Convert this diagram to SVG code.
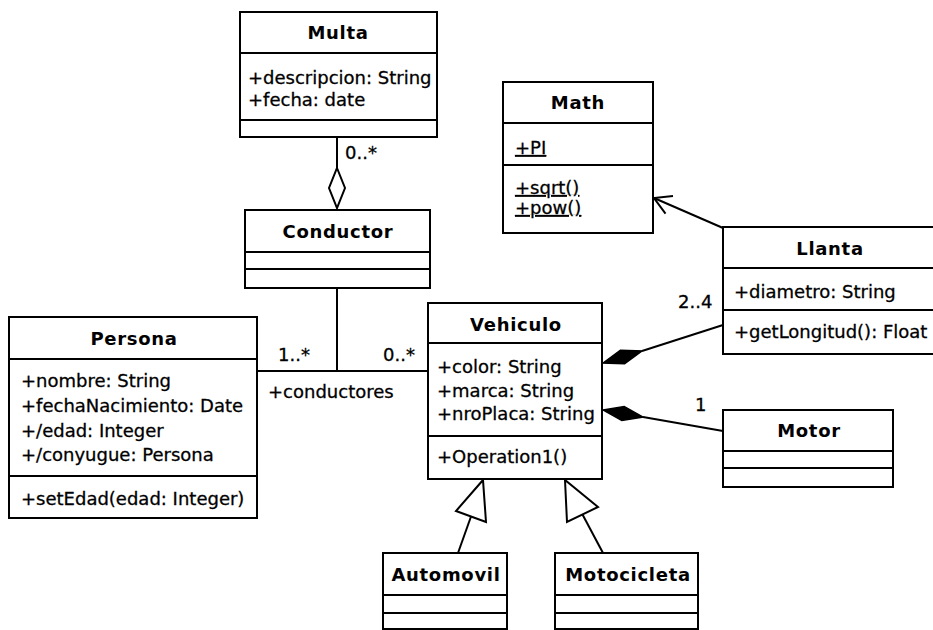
<svg xmlns="http://www.w3.org/2000/svg" width="933" height="630" viewBox="0 0 933 630">
  <style>
    .box { fill: #ffffff; stroke: #000000; stroke-width: 2; }
    .div { stroke: #000000; stroke-width: 2; }
    .edge { fill: none; stroke: #000000; stroke-width: 2; }
    .title { font-family: "DejaVu Sans", Verdana, sans-serif; font-weight: bold; font-size: 18px; letter-spacing: 0.7px; text-anchor: middle; fill: #000; }
    .txt { font-family: "DejaVu Sans", Verdana, sans-serif; font-size: 18px; fill: #000; stroke: #000; stroke-width: 0.3; }
    .u { text-decoration: underline; }
  </style>
  <rect width="933" height="630" fill="#ffffff"/>

  <!-- connectors -->
  <g id="connectors">
    <!-- Multa aggregation to Conductor -->
    <line class="edge" x1="337" y1="137" x2="337" y2="168"/>
    <polygon points="337,168 345,188 337,208 329,188" fill="#fff" stroke="#000" stroke-width="2"/>
    <text class="txt" x="345" y="159">0..*</text>
    <!-- Persona - Vehiculo association with Conductor class -->
    <line class="edge" x1="257" y1="371" x2="428" y2="371"/>
    <line class="edge" x1="337" y1="288" x2="337" y2="371"/>
    <text class="txt" x="278" y="361">1..*</text>
    <text class="txt" x="383" y="361">0..*</text>
    <text class="txt" x="268" y="398">+conductores</text>
    <!-- composition Llanta -->
    <polygon points="603,363 620.4,350.3 642,351 624.6,363.7" fill="#000" stroke="#000" stroke-width="1.5"/>
    <line class="edge" x1="642" y1="351" x2="723" y2="325"/>
    <text class="txt" x="678" y="308">2..4</text>
    <!-- composition Motor -->
    <polygon points="603,410 624.2,406.6 643,417 621.8,420.4" fill="#000" stroke="#000" stroke-width="1.5"/>
    <line class="edge" x1="643" y1="417" x2="723" y2="431"/>
    <text class="txt" x="695" y="411">1</text>
    <!-- dependency Llanta to Math, open arrowhead -->
    <line class="edge" x1="723" y1="228" x2="654" y2="198"/>
    <polyline class="edge" points="673,196 654,198 665.5,213.6"/>
    <!-- generalizations -->
    <polygon points="483,480 456,511 486,522" fill="#fff" stroke="#000" stroke-width="2"/>
    <line class="edge" x1="471" y1="516.5" x2="458" y2="553"/>
    <polygon points="565,480 567,522 598,507" fill="#fff" stroke="#000" stroke-width="2"/>
    <line class="edge" x1="582.5" y1="514.5" x2="603" y2="553"/>
  </g>

  <g id="Multa">
    <rect class="box" x="240" y="12" width="197" height="125"/>
    <line class="div" x1="240" y1="53" x2="437" y2="53"/>
    <line class="div" x1="240" y1="120" x2="437" y2="120"/>
    <text class="title" x="338" y="39">Multa</text>
    <text class="txt" x="248" y="84">+descripcion: String</text>
    <text class="txt" x="248" y="106">+fecha: date</text>
  </g>

  <g id="Math">
    <rect class="box" x="503" y="82" width="150" height="151"/>
    <line class="div" x1="503" y1="123" x2="653" y2="123"/>
    <line class="div" x1="503" y1="165" x2="653" y2="165"/>
    <text class="title" x="578" y="109">Math</text>
    <text class="txt u" x="515" y="154">+PI</text>
    <text class="txt u" x="515" y="194">+sqrt()</text>
    <text class="txt u" x="515" y="214">+pow()</text>
  </g>

  <g id="Conductor">
    <rect class="box" x="245" y="210" width="185" height="78"/>
    <line class="div" x1="245" y1="252" x2="430" y2="252"/>
    <line class="div" x1="245" y1="269" x2="430" y2="269"/>
    <text class="title" x="338" y="238">Conductor</text>
  </g>

  <g id="Persona">
    <rect class="box" x="9" y="317" width="248" height="201"/>
    <line class="div" x1="9" y1="359" x2="257" y2="359"/>
    <line class="div" x1="9" y1="476" x2="257" y2="476"/>
    <text class="title" x="134" y="345">Persona</text>
    <text class="txt" x="21" y="387">+nombre: String</text>
    <text class="txt" x="21" y="412">+fechaNacimiento: Date</text>
    <text class="txt" x="21" y="437">+/edad: Integer</text>
    <text class="txt" x="21" y="461">+/conyugue: Persona</text>
    <text class="txt" x="21" y="505">+setEdad(edad: Integer)</text>
  </g>

  <g id="Vehiculo">
    <rect class="box" x="428" y="303" width="174" height="176"/>
    <line class="div" x1="428" y1="343" x2="602" y2="343"/>
    <line class="div" x1="428" y1="436" x2="602" y2="436"/>
    <text class="title" x="516" y="331">Vehiculo</text>
    <text class="txt" x="437" y="373">+color: String</text>
    <text class="txt" x="437" y="397">+marca: String</text>
    <text class="txt" x="437" y="420">+nroPlaca: String</text>
    <text class="txt" x="437" y="463">+Operation1()</text>
  </g>

  <g id="Llanta">
    <rect class="box" x="723" y="227" width="230" height="127"/>
    <line class="div" x1="723" y1="268" x2="953" y2="268"/>
    <line class="div" x1="723" y1="310" x2="953" y2="310"/>
    <text class="title" x="830" y="255">Llanta</text>
    <text class="txt" x="734" y="298">+diametro: String</text>
    <text class="txt" x="734" y="338">+getLongitud(): Float</text>
  </g>

  <g id="Motor">
    <rect class="box" x="723" y="410" width="170" height="77"/>
    <line class="div" x1="723" y1="451" x2="893" y2="451"/>
    <line class="div" x1="723" y1="468" x2="893" y2="468"/>
    <text class="title" x="809" y="437">Motor</text>
  </g>

  <g id="Automovil">
    <rect class="box" x="383" y="553" width="124" height="76"/>
    <line class="div" x1="383" y1="595" x2="507" y2="595"/>
    <line class="div" x1="383" y1="613" x2="507" y2="613"/>
    <text class="title" x="446" y="581">Automovil</text>
  </g>

  <g id="Motocicleta">
    <rect class="box" x="555" y="553" width="143" height="76"/>
    <line class="div" x1="555" y1="595" x2="698" y2="595"/>
    <line class="div" x1="555" y1="613" x2="698" y2="613"/>
    <text class="title" x="628" y="581">Motocicleta</text>
  </g>
</svg>
